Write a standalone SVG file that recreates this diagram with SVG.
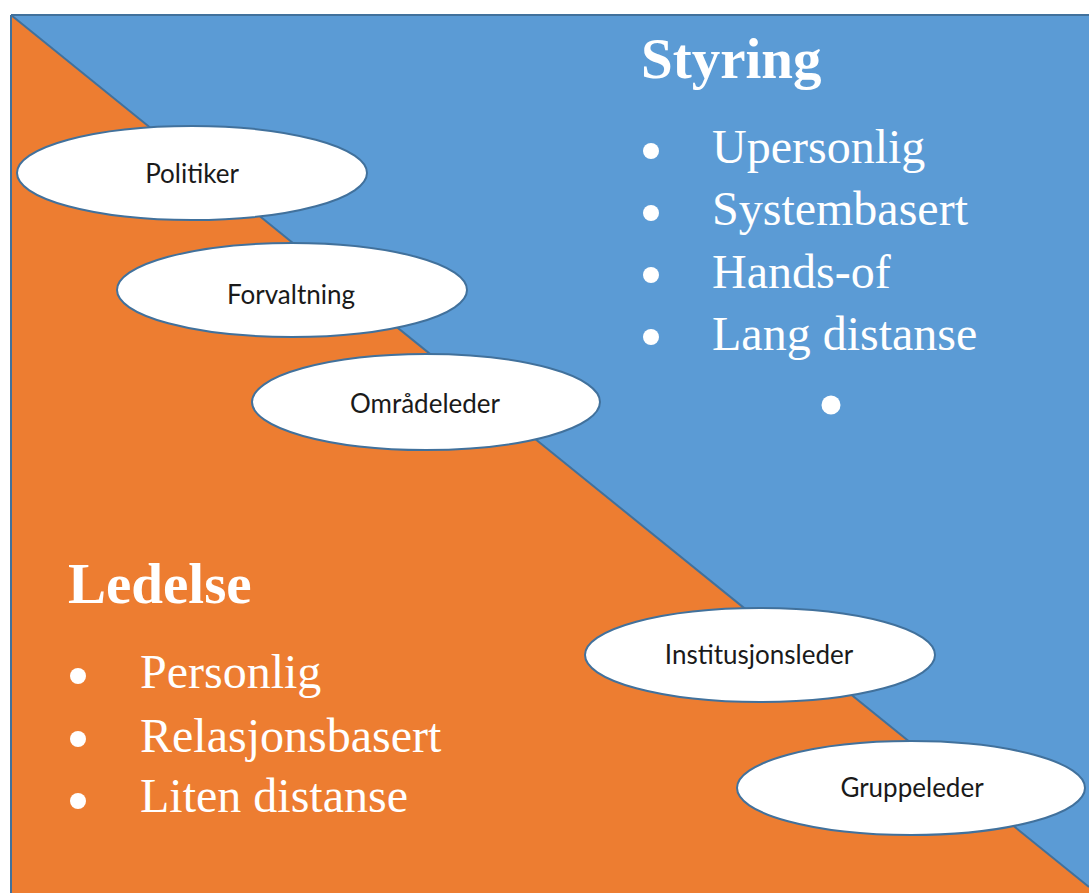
<svg xmlns="http://www.w3.org/2000/svg" width="1089" height="893" viewBox="0 0 1089 893">
  <style>
    .node ellipse { fill: #ffffff; stroke: #41719C; stroke-width: 2; }
    .node text { font-family: Lato, "Open Sans", "Liberation Sans", sans-serif; font-size: 26px; fill: #1a1a1a; text-anchor: middle; }
    .title { font-family: "Liberation Serif", serif; font-weight: bold; font-size: 57px; fill: #ffffff; }
    .item { font-family: "Liberation Serif", serif; font-size: 48px; fill: #ffffff; }
    .dot { fill: #ffffff; }
  </style>
  <rect x="0" y="0" width="1089" height="893" fill="#ffffff"/>
  <g id="background">
    <rect x="11" y="15" width="1078" height="878" fill="#5B9BD5"/>
    <polygon points="11,15 1089,887 1089,893 11,893" fill="#ED7D31"/>
    <line x1="11" y1="15" x2="1089" y2="15" stroke="#41719C" stroke-width="2"/>
    <line x1="11" y1="15" x2="11" y2="893" stroke="#41719C" stroke-width="2"/>
  </g>
  <g id="connectors">
    <line x1="11" y1="15" x2="1089" y2="887" stroke="#41719C" stroke-width="2"/>
  </g>
  <g id="styring">
    <text class="title" x="641" y="78">Styring</text>
    <circle class="dot" cx="651" cy="151" r="8"/>
    <text class="item" x="712" y="163">Upersonlig</text>
    <circle class="dot" cx="651" cy="213" r="8"/>
    <text class="item" x="712" y="225">Systembasert</text>
    <circle class="dot" cx="651" cy="275" r="8"/>
    <text class="item" x="712" y="288">Hands-of</text>
    <circle class="dot" cx="651" cy="337" r="8"/>
    <text class="item" x="712" y="350">Lang distanse</text>
    <circle class="dot" cx="831" cy="405" r="9.5"/>
  </g>
  <g id="ledelse">
    <text class="title" x="68" y="603">Ledelse</text>
    <circle class="dot" cx="78" cy="676" r="8"/>
    <text class="item" x="140" y="688">Personlig</text>
    <circle class="dot" cx="78" cy="739" r="8"/>
    <text class="item" x="140" y="752">Relasjonsbasert</text>
    <circle class="dot" cx="78" cy="801" r="8"/>
    <text class="item" x="140" y="812">Liten distanse</text>
  </g>
  <g id="node-politiker" class="node">
    <ellipse cx="192" cy="173" rx="175" ry="47"/>
    <text x="192" y="183">Politiker</text>
  </g>
  <g id="node-forvaltning" class="node">
    <ellipse cx="292" cy="290" rx="175" ry="47"/>
    <text x="291" y="304">Forvaltning</text>
  </g>
  <g id="node-omradeleder" class="node">
    <ellipse cx="426" cy="402" rx="174" ry="48"/>
    <text x="425" y="413">Områdeleder</text>
  </g>
  <g id="node-institusjonsleder" class="node">
    <ellipse cx="760" cy="655" rx="175" ry="47"/>
    <text x="759" y="664">Institusjonsleder</text>
  </g>
  <g id="node-gruppeleder" class="node">
    <ellipse cx="911" cy="788" rx="174" ry="47"/>
    <text x="912" y="797">Gruppeleder</text>
  </g>
</svg>
